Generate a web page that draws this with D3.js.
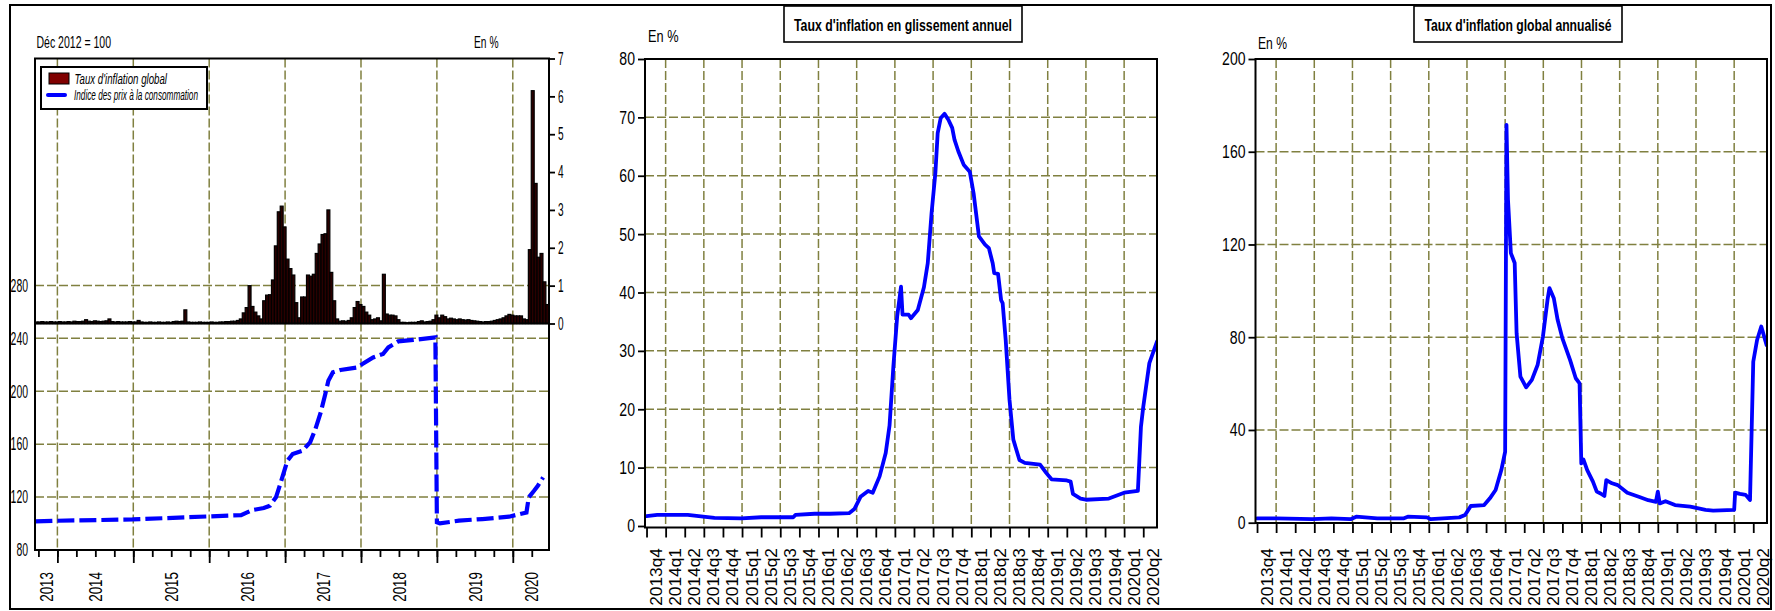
<!DOCTYPE html>
<html><head><meta charset="utf-8">
<script src="https://cdn.jsdelivr.net/npm/d3@7"></script>
<style>body{margin:0;background:#fff}svg{display:block}</style>
</head><body>
<svg id="c" width="1775" height="611"></svg>
<script>
// ---------------- DATA ----------------
// Panel 1: bi-weekly global inflation rate, % (right axis), first bar starts mid-Sept 2013
const barStart = 2013.705;
const barStep = 1 / 26;
const inflationGlobal = [
  0.04,0.04,0.05,0.04,0.04,0.05,0.04,0.04,0.05,0.04,0.04,0.05,0.04,0.06,0.05,0.05,0.06,
  0.10,
  0.06,0.05,0.07,0.06,0.05,0.06,0.07,
  0.12,
  0.05,0.04,0.05,0.04,0.04,0.04,0.05,0.04,0.04,
  0.08,
  0.04,0.03,0.03,0.04,0.03,0.03,0.04,0.03,0.03,0.04,0.03,0.05,0.06,0.05,0.06,
  0.36,
  0.04,0.03,0.03,0.03,0.04,0.03,0.03,0.03,0.04,0.03,0.03,0.04,0.04,0.05,0.05,0.06,0.06,0.08,
  0.12,0.28,0.42,1.00,0.45,0.30,0.20,0.12,0.60,0.75,0.76,1.15,2.05,2.95,3.10,2.55,1.70,1.45,1.28,0.55,
  0.15,0.70,0.70,1.28,1.25,1.30,1.85,2.10,2.35,2.37,3.00,1.35,0.60,0.12,0.06,0.07,0.06,0.08,0.15,0.42,
  0.58,0.50,0.45,0.30,0.22,0.10,0.12,0.15,0.07,1.30,0.25,0.22,0.22,0.20,0.10,0.03,0.03,0.02,0.03,0.03,
  0.03,0.05,0.07,0.04,0.05,0.06,0.10,0.22,0.15,0.22,0.18,0.12,0.14,0.12,0.10,0.12,0.10,0.09,0.10,0.08,
  0.07,0.06,0.05,0.04,0.05,0.05,0.06,0.08,0.10,0.12,0.15,0.20,0.24,0.22,0.20,0.20,0.20,0.12,0.10,1.95,
  6.15,3.70,1.75,1.85,1.10,0.50,0.70
];
// Panel 1: consumer price index (Dec 2012 = 100), left axis
const cpiYears  = [2013.71,2014.00,2014.99,2015.99,2016.42,2016.50,2016.57,2016.72,2016.80,2016.88,2016.95,2017.03,2017.10,2017.23,2017.33,2017.40,2017.47,2017.53,2017.57,2017.63,2017.73,2017.96,2018.03,2018.16,2018.29,2018.36,2018.49,2018.69,2018.98,2019.00,2019.04,2019.29,2019.60,2019.95,2020.18,2020.21,2020.28,2020.33,2020.40];
const cpiValues = [101.6, 102.1, 103.1, 105.4, 106.4, 108.4, 110.2, 111.7, 113.5, 119.8, 132.4, 147.5, 152.6, 155.1, 161.4, 171.5, 184.1, 198.0, 208.0, 214.3, 216.1, 218.1, 221.1, 225.6, 228.2, 233.2, 237.7, 238.8, 240.8, 100.9, 100.1, 102.2, 103.4, 105.2, 108.4, 119.8, 124.8, 128.6, 134.9];
const yearLabels = ["2013","2014","2015","2016","2017","2018","2019","2020"];
const leftTicks  = [80,120,160,200,240,280];
const rightTicks = [0,1,2,3,4,5,6,7];

// Panel 2: year-on-year inflation, %
const yoyYears  = [2013.75,2013.89,2014.29,2014.49,2014.64,2014.99,2015.25,2015.67,2015.70,2015.95,2016.15,2016.40,2016.47,2016.55,2016.65,2016.71,2016.80,2016.88,2016.93,2016.98,2017.03,2017.08,2017.10,2017.18,2017.21,2017.30,2017.38,2017.43,2017.48,2017.53,2017.56,2017.60,2017.65,2017.70,2017.75,2017.78,2017.83,2017.90,2017.98,2018.03,2018.10,2018.18,2018.23,2018.28,2018.30,2018.35,2018.39,2018.41,2018.45,2018.50,2018.55,2018.63,2018.70,2018.90,2018.98,2019.05,2019.25,2019.30,2019.33,2019.43,2019.50,2019.80,2020.00,2020.18,2020.22,2020.25,2020.33,2020.43];
const yoyValues = [1.7,1.9,1.9,1.6,1.4,1.3,1.5,1.5,1.9,2.1,2.1,2.2,2.9,5.0,6.0,5.7,8.5,12.5,17.2,27.3,35.9,41.0,36.2,36.2,35.6,37.0,40.9,45.0,53.6,60.5,67.3,69.9,70.6,69.6,68.2,66.2,64.2,61.9,60.7,57.0,49.6,48.2,47.6,45.0,43.3,43.2,38.7,38.2,31.9,21.6,14.8,11.3,10.8,10.5,9.1,8.0,7.8,7.6,5.5,4.7,4.5,4.7,5.7,6.0,17.0,20.4,27.9,31.6];
const yoyTicks = [0,10,20,30,40,50,60,70,80];

// Panel 3: annualised global inflation, %
const annYears  = [2013.75,2014.00,2014.475,2014.725,2014.975,2015.05,2015.325,2015.675,2015.725,2015.975,2016.025,2016.40,2016.475,2016.55,2016.725,2016.80,2016.875,2016.95,2017.00,2017.0175,2017.0375,2017.075,2017.125,2017.15,2017.20,2017.275,2017.35,2017.425,2017.495,2017.555,2017.58,2017.6375,2017.6875,2017.75,2017.85,2017.925,2017.975,2017.9975,2018.025,2018.075,2018.15,2018.20,2018.25,2018.30,2018.325,2018.40,2018.475,2018.60,2018.75,2018.875,2018.975,2019.00,2019.025,2019.10,2019.225,2019.425,2019.625,2019.725,2020.00,2020.0125,2020.075,2020.15,2020.2075,2020.25,2020.30,2020.355,2020.425];
const annValues = [1.9,1.9,1.5,1.9,1.5,2.6,1.9,1.9,2.6,2.3,1.5,2.3,3.3,7.2,7.6,10.5,14.1,22.7,30.6,171.6,139.3,116.3,112.0,81.7,63.0,58.4,61.6,68.0,80.3,96.1,101.2,96.8,87.5,79.5,70.2,62.3,60.1,25.6,27.3,22.7,17.7,13.4,12.6,11.5,18.4,17.0,16.2,12.9,11.2,9.7,9.0,13.4,8.3,9.3,7.6,6.9,5.5,5.2,5.5,13.0,12.4,12.0,9.8,69.4,78.8,84.6,76.6];
const annTicks = [0,40,80,120,160,200];

const quarterLabels = ["2013q4","2014q1","2014q2","2014q3","2014q4","2015q1","2015q2","2015q3","2015q4","2016q1","2016q2","2016q3","2016q4","2017q1","2017q2","2017q3","2017q4","2018q1","2018q2","2018q3","2018q4","2019q1","2019q2","2019q3","2019q4","2020q1","2020q2"];

// ---------------- HELPERS ----------------
const FONT = "'Liberation Sans', Arial, Helvetica, sans-serif";
const GRID = "#808040";
const svg = d3.select("#c");

function txt(g, str, x, y, o = {}) {
  const sx = o.sx || 1;
  const t = g.append("text")
    .attr("transform", `translate(${x},${y})${o.rot ? ` rotate(${o.rot})` : ""} scale(${sx},1)`)
    .attr("font-family", FONT).attr("font-size", o.size || 14)
    .attr("text-anchor", o.anchor || "start").attr("fill", "#000");
  if (o.weight) t.attr("font-weight", o.weight);
  if (o.style) t.attr("font-style", o.style);
  if (o.dy) t.attr("dy", o.dy);
  if (o.len) t.attr("textLength", o.len / sx).attr("lengthAdjust", "spacingAndGlyphs");
  t.text(str);
  return t;
}
function gridV(g, xs, vals, top, bot) {
  g.append("g").selectAll("line").data(vals).join("line")
    .attr("x1", d => xs(d)).attr("x2", d => xs(d)).attr("y1", top).attr("y2", bot)
    .attr("stroke", GRID).attr("stroke-width", 1.5).attr("stroke-dasharray", "9,3");
}
function gridH(g, ys, vals, l, r) {
  g.append("g").selectAll("line").data(vals).join("line")
    .attr("y1", d => ys(d)).attr("y2", d => ys(d)).attr("x1", l).attr("x2", r)
    .attr("stroke", GRID).attr("stroke-width", 1.5).attr("stroke-dasharray", "9,3");
}
function styleAxis(a, sx, size, off) {
  a.select(".domain").remove();
  a.selectAll(".tick line").attr("stroke", "#000").attr("stroke-width", 1.8);
  a.selectAll(".tick text").attr("font-family", FONT).attr("font-size", size)
    .attr("fill", "#000").attr("x", off / sx).attr("transform", `scale(${sx},1)`);
}
const qYear = s => +s.slice(0, 4) + (+s.slice(5) - 1) / 4;

// outer frame
svg.append("rect").attr("x", 10).attr("y", 5).attr("width", 1761).attr("height", 604)
  .attr("fill", "none").attr("stroke", "#000").attr("stroke-width", 2);

// ================= PANEL 1 =================
{
  const P = { l: 35, r: 549, t: 58.5, b: 550 };
  const g = svg.append("g");
  const x = d3.scaleLinear().domain([2013.705, 2020.477]).range([P.l, P.r]);
  const yL = d3.scaleLinear().domain([80, 451.6]).range([P.b, P.t]);
  const yR = d3.scaleLinear().domain([-5.983, 7]).range([P.b, P.t]);
  const years = yearLabels.map(Number);

  gridV(g, x, years.slice(1), P.t, P.b);
  gridH(g, yL, leftTicks.slice(1), P.l, P.r);

  g.append("defs").append("clipPath").attr("id", "cp1").append("rect")
    .attr("x", P.l).attr("y", P.t).attr("width", P.r - P.l).attr("height", P.b - P.t);

  const bars = inflationGlobal.map((v, i) => ({ y0: barStart + i * barStep, y1: barStart + (i + 1) * barStep, v }));
  g.append("g").attr("clip-path", "url(#cp1)").selectAll("rect").data(bars).join("rect")
    .attr("x", d => x(d.y0)).attr("width", d => x(d.y1) - x(d.y0))
    .attr("y", d => yR(d.v)).attr("height", d => yR(0) - yR(d.v))
    .attr("fill", "#2a0000").attr("stroke", "#000").attr("stroke-width", 1.2);
  g.append("line").attr("x1", P.l).attr("x2", P.r).attr("y1", yR(0)).attr("y2", yR(0))
    .attr("stroke", "#000").attr("stroke-width", 2);

  const cpi = cpiYears.map((t, i) => [t, cpiValues[i]]);
  g.append("path").datum(cpi).attr("clip-path", "url(#cp1)")
    .attr("d", d3.line().x(d => x(d[0])).y(d => yL(d[1])))
    .attr("fill", "none").attr("stroke", "#0000ff").attr("stroke-width", 4.2)
    .attr("stroke-dasharray", "17,5");

  g.append("rect").attr("x", P.l).attr("y", P.t).attr("width", P.r - P.l).attr("height", P.b - P.t)
    .attr("fill", "none").attr("stroke", "#000").attr("stroke-width", 2);

  // left axis
  const aL = g.append("g").attr("transform", `translate(${P.l},0)`)
    .call(d3.axisLeft(yL).tickValues(leftTicks).tickSize(0).tickPadding(7));
  styleAxis(aL, 0.58, 18, -7);
  // right axis
  const aR = g.append("g").attr("transform", `translate(${P.r},0)`)
    .call(d3.axisRight(yR).tickValues(rightTicks).tickSize(6).tickPadding(3));
  styleAxis(aR, 0.56, 18, 9);
  // bottom ticks: quarters (minor) and years (major)
  const quarters = d3.range(0, 27).map(k => 2013.75 + k / 4);
  const aQ = g.append("g").attr("transform", `translate(0,${P.b})`)
    .call(d3.axisBottom(x).tickValues(quarters).tickSize(7).tickFormat(""));
  styleAxis(aQ, 1, 10, 0);
  const aY = g.append("g").attr("transform", `translate(0,${P.b})`)
    .call(d3.axisBottom(x).tickValues(years.slice(1)).tickSize(13).tickFormat(""));
  styleAxis(aY, 1, 10, 0);
  const [d0, d1] = x.domain();
  yearLabels.forEach(s => {
    const a = Math.max(+s, d0), b = Math.min(+s + 1, d1);
    txt(g, s, x((a + b) / 2), 572, { rot: -90, sx: 0.725, size: 18.5, anchor: "end", dy: "0.36em" });
  });

  // header texts
  txt(g, "Déc 2012 = 100", 36.5, 48, { size: 17, len: 74.5 });
  txt(g, "En %", 474, 48, { size: 17, len: 24.5 });

  // legend
  const lg = g.append("g");
  lg.append("rect").attr("x", 41).attr("y", 67).attr("width", 166).attr("height", 42)
    .attr("fill", "#fff").attr("stroke", "#000").attr("stroke-width", 2);
  lg.append("rect").attr("x", 49).attr("y", 73).attr("width", 20).attr("height", 11)
    .attr("fill", "#800000").attr("stroke", "#000").attr("stroke-width", 1);
  lg.append("line").attr("x1", 48).attr("x2", 65).attr("y1", 95).attr("y2", 95)
    .attr("stroke", "#0000ff").attr("stroke-width", 4).attr("stroke-linecap", "round");
  txt(lg, "Taux d'inflation global", 74.5, 83.5, { size: 14, style: "italic", len: 92.5 });
  txt(lg, "Indice des prix à la consommation", 74, 99.5, { size: 14, style: "italic", len: 124 });
}

// ============ PANELS 2 and 3 (quarterly axis) ============
function linePanel(P, id, years, values, ticks, yDom, title, titleBox, titleLen, enPos) {
  const g = svg.append("g");
  const x = d3.scaleLinear().domain([2013.73, 2020.43]).range([P.l, P.r]);
  const y = d3.scaleLinear().domain(yDom).range([P.b, P.t]);
  const qPos = quarterLabels.map(qYear);
  gridV(g, x, qPos.filter((q, k) => k % 2 === 1), P.t, P.b);
  gridH(g, y, ticks.slice(1, -1), P.l, P.r);

  g.append("defs").append("clipPath").attr("id", id).append("rect")
    .attr("x", P.l).attr("y", P.t).attr("width", P.r - P.l).attr("height", P.b - P.t);
  const pts = years.map((t, i) => [t, values[i]]);
  g.append("path").datum(pts).attr("clip-path", `url(#${id})`)
    .attr("d", d3.line().x(d => x(d[0])).y(d => y(d[1])))
    .attr("fill", "none").attr("stroke", "#0000ff").attr("stroke-width", 3.8)
    .attr("stroke-linejoin", "round").attr("stroke-linecap", "round");

  g.append("rect").attr("x", P.l).attr("y", P.t).attr("width", P.r - P.l).attr("height", P.b - P.t)
    .attr("fill", "none").attr("stroke", "#000").attr("stroke-width", 2);

  const aL = g.append("g").attr("transform", `translate(${P.l},0)`)
    .call(d3.axisLeft(y).tickValues(ticks).tickSize(7).tickPadding(3));
  styleAxis(aL, 0.76, 18.5, -10);
  const aB = g.append("g").attr("transform", `translate(0,${P.b})`)
    .call(d3.axisBottom(x).tickValues(qPos).tickSize(10).tickFormat(""));
  styleAxis(aB, 1, 10, 0);
  quarterLabels.forEach(s => {
    txt(g, s, x(qYear(s) + 0.125), 548, { rot: -90, sx: 1.05, size: 16.5, anchor: "end", dy: "0.36em" });
  });

  // title box
  g.append("rect").attr("x", titleBox[0]).attr("y", 6).attr("width", titleBox[1] - titleBox[0]).attr("height", 36)
    .attr("fill", "#fff").attr("stroke", "#000").attr("stroke-width", 1.6);
  txt(g, title, (titleBox[0] + titleBox[1]) / 2, 30.5, { size: 16, weight: "bold", anchor: "middle", len: titleLen });
  txt(g, "En %", enPos[0], enPos[1], { size: 16.5, len: enPos[2] });
}

linePanel({ l: 645, r: 1157, t: 59, b: 527.5 }, "cp2", yoyYears, yoyValues, yoyTicks, [-0.257, 80],
  "Taux d'inflation en glissement annuel", [784, 1022], 218, [648, 41.5, 30.5]);
linePanel({ l: 1255.5, r: 1767, t: 59, b: 523 }, "cp3", annYears, annValues, annTicks, [-0.13, 200],
  "Taux d'inflation global annualisé", [1414, 1622], 187, [1258, 49, 29]);
</script>
</body></html>
